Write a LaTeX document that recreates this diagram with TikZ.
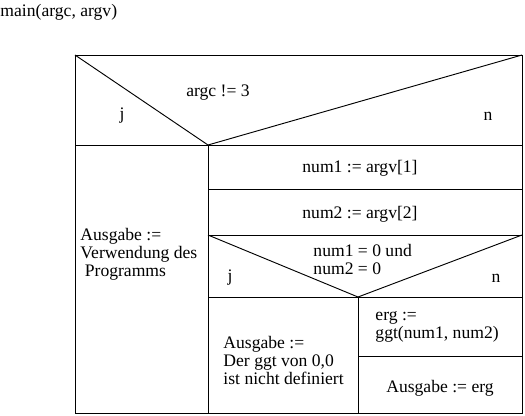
\documentclass[tikz,border=0pt]{standalone}
\usepackage{fontspec}
\setmainfont{Liberation Serif}
\usetikzlibrary{positioning}
\tikzset{font=\fontsize{13.2}{13.5}\selectfont}

\begin{document}
\begin{tikzpicture}[x=0.75pt, y=-0.75pt, line width=0.7pt]
	\useasboundingbox (0,0) rectangle (525,415);
	\begin{scope}
		\tikzstyle{every node}=[align=left, inner sep=0pt]
		% frame
		\coordinate (tl) at (75, 55);
		\coordinate (tr) at (522, 55);
		\coordinate (br) at (522, 413);
		\coordinate (cl) at (75, 145);
		\coordinate (cm) at (208, 145);
		\coordinate (cr) at (522, 145);
		\coordinate (bm) at (208, 413);
		% right branch
		\coordinate (r1l) at (208, 189);
		\coordinate (r1r) at (522, 189);
		\coordinate (r2l) at (208, 235);
		\coordinate (r2r) at (522, 235);
		\coordinate (r3l) at (208, 297);
		\coordinate (r3m) at (358, 297);
		\coordinate (r3r) at (522, 297);
		\coordinate (r3b) at (358, 413);
		\coordinate (r4l) at (358, 356);
		\coordinate (r4r) at (522, 356);
		
		\node[anchor=west] (main) at (0, 12) {main(argc, argv)};
		\node (cond1) at (218, 93) {argc != 3};
		\node (j1) at (122, 116) {j};
		\node (n1) at (488, 116) {n};
		\node[anchor=west] (usage) at (80, 254) {Ausgabe :=\\Verwendung des\\\ Programms};
		\node (num1) at (360, 168) {num1 := argv[1]};
		\node (num2) at (360, 214) {num2 := argv[2]};
		\node[anchor=west] (cond2) at (313, 259) {num1 = 0 und\\num2 = 0};
		\node (j2) at (230, 278) {j};
		\node (n2) at (496, 278) {n};
		\node[anchor=west] (undef) at (223, 360) {Ausgabe :=\\Der ggt von 0,0\\ist nicht definiert};
		\node[anchor=west] (erg) at (375, 327) {erg :=\\ggt(num1, num2)};
		\node (out) at (440, 388) {Ausgabe := erg};
		
		\draw (tl) rectangle (br);
		\draw (cl) -- (cr);
		\draw (tl) -- (cm) -- (tr);
		\draw (cm) -- (bm);
		\draw (r1l) -- (r1r);
		\draw (r2l) -- (r2r);
		\draw (r2l) -- (r3m) -- (r2r);
		\draw (r3l) -- (r3r);
		\draw (r3m) -- (r3b);
		\draw (r4l) -- (r4r);
	\end{scope}
\end{tikzpicture}
\end{document}
